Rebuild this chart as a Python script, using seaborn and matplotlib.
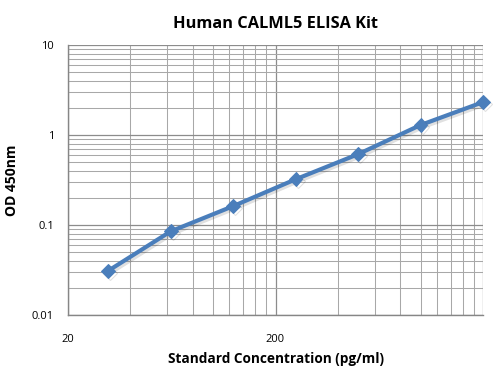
import seaborn as sns
import matplotlib.pyplot as plt
import matplotlib.ticker as mticker
import matplotlib.patheffects as pe
import numpy as np
import pandas as pd

# standard curve readings
conc = [31.25, 62.5, 125, 250, 500, 1000, 2000]
od = [0.031, 0.085, 0.162, 0.322, 0.612, 1.29, 2.32]

df = pd.DataFrame({'conc': conc, 'od': od})

sns.set_style("white", {'text.color': 'black', 'axes.labelcolor': 'black'})
plt.rcParams['font.family'] = ['Open Sans', 'DejaVu Sans']

fig, ax = plt.subplots(figsize=(4.99, 3.70), dpi=100)
fig.subplots_adjust(left=68/499, right=483/499, top=1-45/370, bottom=1-315/370)

ax.set_xscale('log')
ax.set_yscale('log')
ax.set_xlim(20, 2000)
ax.set_ylim(0.01, 10)

# excel style grid: majors at 20, 200, 2000, minors at multiples of the decade start
ax.xaxis.set_major_locator(mticker.FixedLocator([20, 200, 2000]))
xminor = [20*k for k in range(2, 10)] + [200*k for k in range(2, 10)]
ax.xaxis.set_minor_locator(mticker.FixedLocator(xminor))
ax.xaxis.set_major_formatter(mticker.FixedFormatter(['20', '200', '']))
ax.xaxis.set_minor_formatter(mticker.NullFormatter())

ax.yaxis.set_major_locator(mticker.FixedLocator([0.01, 0.1, 1, 10]))
ax.yaxis.set_major_formatter(mticker.FixedFormatter(['0.01', '0.1', '1', '10']))
ax.yaxis.set_minor_locator(mticker.LogLocator(base=10, subs=np.arange(2, 10)))
ax.yaxis.set_minor_formatter(mticker.NullFormatter())

ax.grid(which='major', color='#8c8c8c', linewidth=0.9)
ax.grid(which='minor', color='#a8a8a8', linewidth=0.75)
ax.set_axisbelow(True)

for s in ['top', 'right']:
    ax.spines[s].set_visible(False)
for s in ['left', 'bottom']:
    ax.spines[s].set_color('#868686')
    ax.spines[s].set_linewidth(1.0)

ax.tick_params(which='major', length=4, color='#868686', labelsize=8, pad=6, labelcolor='black')
ax.tick_params(which='minor', length=0)
ax.tick_params(axis='x', pad=10)

sns.lineplot(data=df, x='conc', y='od', ax=ax, color='#4a7ebb', linewidth=3,
             marker='D', markersize=7, markeredgecolor='#4a7ebb', clip_on=False, zorder=5,
             path_effects=[pe.SimpleLineShadow(offset=(1.5, -1.5), alpha=0.12), pe.Normal()])

ax.set_title('Human CALML5 ELISA Kit', fontsize=11.8, fontweight='bold', pad=12, color='black')
ax.set_xlabel('Standard Concentration (pg/ml)', fontsize=9.8, fontweight='bold', labelpad=5, color='black')
ax.set_ylabel('OD 450nm', fontsize=10, fontweight='bold', labelpad=9, color='black')

plt.savefig('out.png', dpi=100)
